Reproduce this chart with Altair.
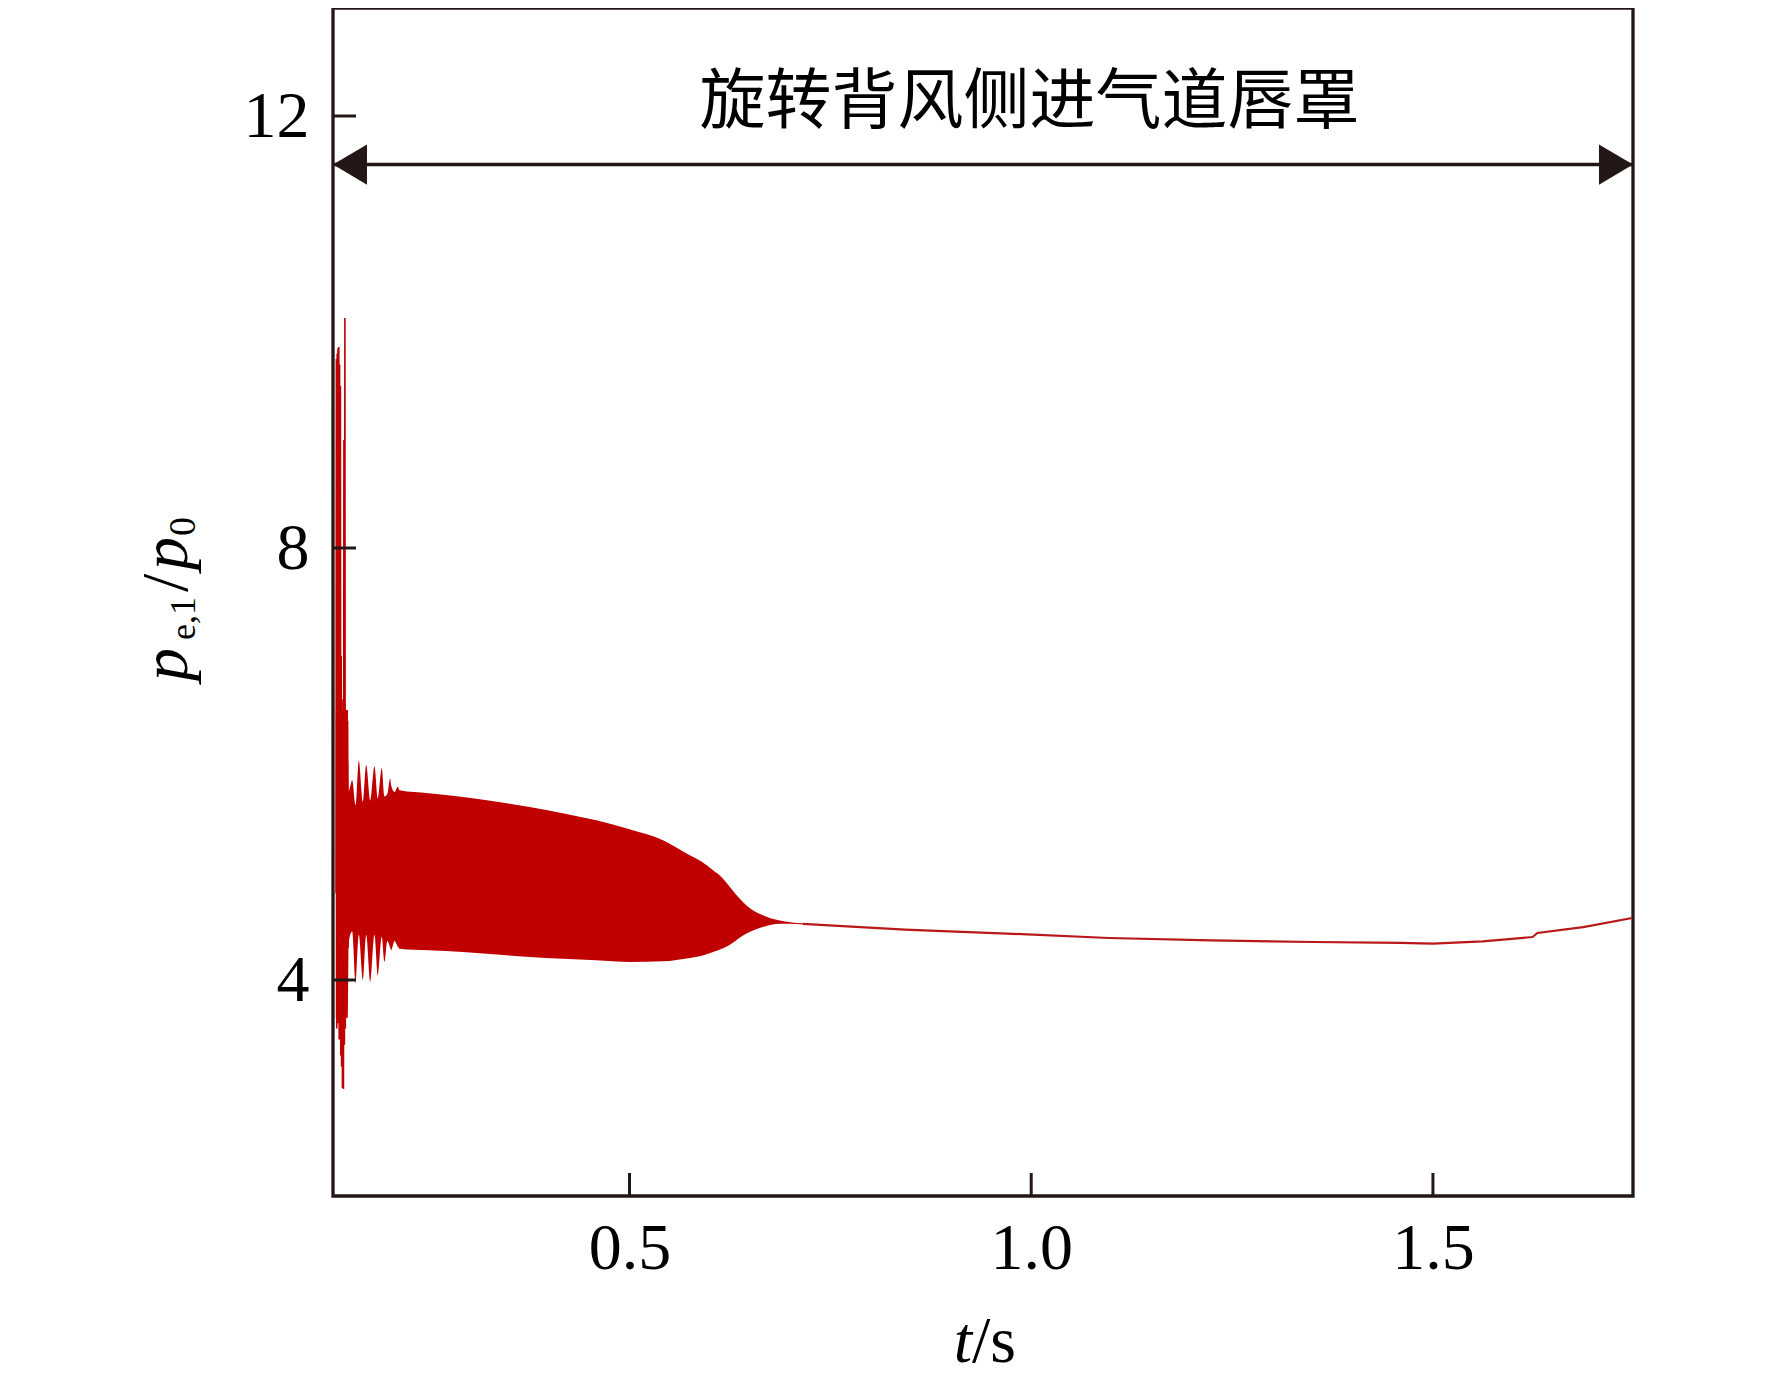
import altair as alt
import pandas as pd

# ---- data ----
# oscillation envelope (upper / lower) of p_e,1/p_0
band_t = [0.1345, 0.1495, 0.1505, 0.1549, 0.1590, 0.1631, 0.1681, 0.1723, 0.1773,
          0.1826, 0.1867, 0.1917, 0.1951, 0.1985, 0.2022, 0.2034, 0.2075, 0.2116,
          0.2138, 0.2500, 0.2927, 0.3350, 0.3757, 0.4170, 0.4588, 0.5000, 0.5417,
          0.5750, 0.5900, 0.6040, 0.6150, 0.6250, 0.6350, 0.6456, 0.6560, 0.6660,
          0.6870, 0.7000, 0.7157]
band_hi = [6.50, 6.50, 5.75, 5.85, 5.62, 6.03, 5.65, 5.99, 5.66,
           5.98, 5.68, 5.96, 5.70, 5.72, 5.865, 5.80, 5.74, 5.79,
           5.757, 5.73, 5.695, 5.65, 5.602, 5.545, 5.479, 5.396, 5.294,
           5.155, 5.095, 5.016, 4.95, 4.861, 4.77, 4.69, 4.635, 4.60,
           4.55, 4.535, 4.525]
band_lo = [3.65, 3.65, 4.35, 4.45, 3.97, 4.42, 4.00, 4.42, 3.98,
           4.42, 4.04, 4.40, 4.17, 4.36, 4.30, 4.275, 4.36, 4.31,
           4.29, 4.275, 4.259, 4.236, 4.213, 4.197, 4.182, 4.167, 4.173,
           4.204, 4.225, 4.26, 4.29, 4.327, 4.38, 4.43, 4.465, 4.49,
           4.52, 4.52, 4.515]

# initial spikes
spike_t = [0.1348, 0.1352, 0.1357, 0.1362, 0.1367, 0.1372, 0.1377, 0.1382, 0.1387,
           0.1392, 0.1397, 0.1402, 0.1407, 0.1412, 0.1417, 0.1422, 0.1428, 0.1434,
           0.1440, 0.1446, 0.1452, 0.1458, 0.1463, 0.1468, 0.1474, 0.1480, 0.1486,
           0.1492, 0.1498]
spike_v = [4.8, 9.75, 3.55, 9.80, 3.60, 9.85, 3.70, 9.86, 3.45,
           9.70, 3.80, 9.50, 3.30, 7.00, 3.20, 6.60, 3.00, 6.50,
           2.99, 9.00, 3.40, 10.13, 3.55, 6.50, 4.00, 6.50, 4.20,
           6.40, 4.30]

# settled tail
tail_t = [0.7157, 0.8427, 0.9697, 1.0968, 1.224, 1.351, 1.459, 1.500, 1.562,
          1.624, 1.630, 1.687, 1.748]
tail_v = [4.52, 4.466, 4.43, 4.389, 4.367, 4.352, 4.343, 4.336, 4.358,
          4.398, 4.435, 4.49, 4.574]

x_ticks = [0.5, 1.0, 1.5]
y_ticks = [4, 8, 12]

arrow_t = [0.131, 1.749]
arrow_y = 11.55
label_text = "旋转背风侧进气道唇罩"
label_t = 0.998
label_y = 12.12

# ---- styling ----
W, H = 1300, 1188
RED = "#c00000"
FR = "#231815"
SERIF = "Liberation Serif"

xs = alt.Scale(domain=[0.131, 1.749], nice=False, zero=False)
ys = alt.Scale(domain=[2, 13], nice=False, zero=False)
xax = alt.Axis(values=x_ticks, format=".1f", title=None, grid=False, domain=False,
               ticks=False, labelFont=SERIF, labelFontSize=66, labelColor="black",
               labelPadding=20)
yax = alt.Axis(values=y_ticks, format="d", title=None, grid=False, domain=False,
               ticks=False, labelFont=SERIF, labelFontSize=66, labelColor="black",
               labelPadding=24)

band_df = pd.DataFrame({"t": band_t, "hi": band_hi, "lo": band_lo})
band = alt.Chart(band_df).mark_area(color=RED, opacity=1, interpolate="monotone").encode(
    x=alt.X("t:Q", scale=xs, axis=xax),
    y=alt.Y("hi:Q", scale=ys, axis=yax),
    y2="lo:Q",
)

spike = alt.Chart(pd.DataFrame({"t": spike_t, "v": spike_v})).mark_line(
    color=RED, strokeWidth=1.6).encode(
    x=alt.X("t:Q", scale=xs, axis=xax),
    y=alt.Y("v:Q", scale=ys, axis=yax),
)

tail = alt.Chart(pd.DataFrame({"t": tail_t, "v": tail_v})).mark_line(
    color="#b81818", strokeWidth=2.2).encode(
    x=alt.X("t:Q", scale=xs, axis=xax),
    y=alt.Y("v:Q", scale=ys, axis=yax),
)

ytick = alt.Chart(pd.DataFrame({"v": y_ticks})).mark_rule(color=FR, strokeWidth=3).encode(
    y=alt.Y("v:Q", scale=ys, axis=yax), x=alt.value(0), x2=alt.value(23))
xtick = alt.Chart(pd.DataFrame({"v": x_ticks})).mark_rule(color=FR, strokeWidth=3).encode(
    x=alt.X("v:Q", scale=xs, axis=xax), y=alt.value(H), y2=alt.value(H - 23))

arrow_line = alt.Chart(pd.DataFrame({"t0": [arrow_t[0]], "t1": [arrow_t[1]], "y": [arrow_y]})).mark_rule(
    color=FR, strokeWidth=3.5).encode(
    x=alt.X("t0:Q", scale=xs, axis=xax), x2="t1:Q", y=alt.Y("y:Q", scale=ys, axis=yax))
head_l = alt.Chart(pd.DataFrame({"t": [arrow_t[0]], "y": [arrow_y]})).mark_point(
    shape="M 0 0 L 2 -1.18 L 2 1.18 Z", filled=True, size=1156, color=FR, opacity=1,
    strokeWidth=0).encode(
    x=alt.X("t:Q", scale=xs, axis=xax), y=alt.Y("y:Q", scale=ys, axis=yax))
head_r = alt.Chart(pd.DataFrame({"t": [arrow_t[1]], "y": [arrow_y]})).mark_point(
    shape="M 0 0 L -2 -1.18 L -2 1.18 Z", filled=True, size=1156, color=FR, opacity=1,
    strokeWidth=0).encode(
    x=alt.X("t:Q", scale=xs, axis=xax), y=alt.Y("y:Q", scale=ys, axis=yax))

label = alt.Chart(pd.DataFrame({"t": [label_t], "y": [label_y], "s": [label_text]})).mark_text(
    font="Noto Sans CJK SC", fontSize=66, color="black", align="center", baseline="middle").encode(
    x=alt.X("t:Q", scale=xs, axis=xax), y=alt.Y("y:Q", scale=ys, axis=yax), text="s:N")


def piece(txt, px, py, size, italic=False, angle=0, align="left"):
    kw = dict(font=SERIF, fontSize=size, color="black", align=align, baseline="alphabetic")
    if italic:
        kw["fontStyle"] = "italic"
    if angle:
        kw["angle"] = angle
    return alt.Chart(pd.DataFrame({"s": [txt]})).mark_text(**kw).encode(
        text="s:N", x=alt.value(px), y=alt.value(py))


# y title  p_{e,1}/p_0 (rotated)
yt1 = piece("p", -146, 673, 66, italic=True, angle=270)
yt2 = piece("e,1", -138, 632, 36, angle=270)
yt3 = piece("/", -146, 584, 66, angle=270)
yt4 = piece("p", -146, 562, 66, italic=True, angle=270)
yt5 = piece("0", -138, 528, 38, angle=270)
# x title  t/s
xt1 = piece("t", 639, 1354, 66, italic=True, align="right")
xt2 = piece("/s", 639, 1354, 66)

chart = alt.layer(
    band, spike, tail, ytick, xtick, arrow_line, head_l, head_r, label,
    yt1, yt2, yt3, yt4, yt5, xt1, xt2,
).properties(
    width=W, height=H,
    autosize=alt.AutoSizeParams(type="none"),
    padding={"left": 325, "top": 0, "right": 131, "bottom": 180},
    background="white",
).configure_view(stroke=FR, strokeWidth=3.3)

chart.save("out.html", embed_options={"renderer": "svg", "actions": False})
